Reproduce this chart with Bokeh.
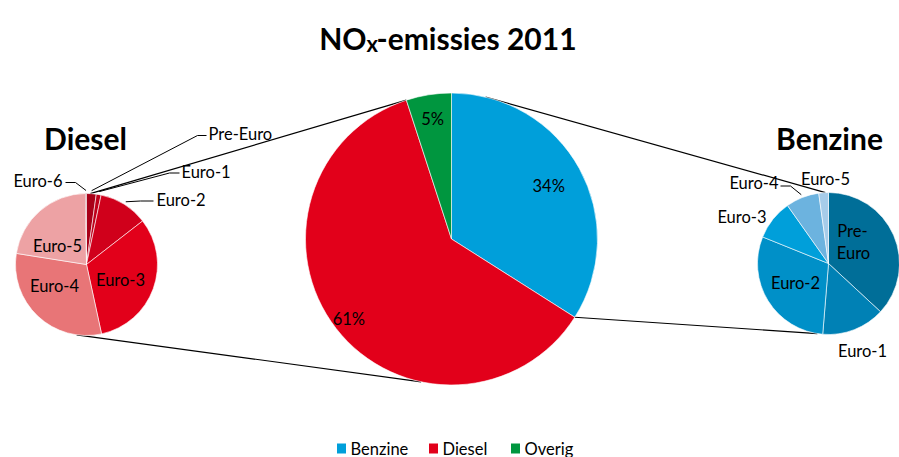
import math
from bokeh.plotting import figure
from bokeh.models import Range1d, ColumnDataSource
from bokeh.core.properties import value
from bokeh.embed import file_html
from bokeh.resources import INLINE

# ---------------- data ----------------
main_labels = ["Benzine", "Diesel", "Overig"]
main_values = [34, 61, 5]
main_colors = ["#009FDA", "#E2001A", "#00963F"]

diesel_classes = ["Pre-Euro", "Euro-1", "Euro-2", "Euro-3", "Euro-4", "Euro-5", "Euro-6"]
diesel_values = [2.2, 1.1, 11.2, 32.1, 30.9, 22.3, 0.2]
diesel_colors = ["#A90018", "#BE001A", "#D0001B", "#E2001A", "#E87577", "#EDA2A4", "#8E0014"]

benzine_classes = ["Pre-Euro", "Euro-1", "Euro-2", "Euro-3", "Euro-4", "Euro-5"]
benzine_values = [36.9, 14.4, 29.8, 9.1, 7.6, 2.2]
benzine_colors = ["#006E98", "#0081B5", "#0090C8", "#009FDA", "#6CB3DF", "#A6CCE9"]

W, H = 899, 457
FONT = "Lato"
FS = 16.5

p = figure(width=W, height=H, output_backend="svg", toolbar_location=None,
           x_range=Range1d(0, W), y_range=Range1d(0, H), min_border=0)
p.axis.visible = False
p.grid.visible = False
p.outline_line_color = None
p.background_fill_color = "white"
p.border_fill_color = "white"


def Y(py):
    return H - py


def pt(cx, cy, r, deg):
    """screen point on a circle, angle clockwise from 12 o'clock"""
    a = math.radians(deg)
    return cx + r * math.sin(a), cy - r * math.cos(a)


def pie(cx, cy, r, values, colors, names):
    tot = float(sum(values))
    cum = 0.0
    starts, ends, mids = [], [], []
    for v in values:
        s = cum / tot
        cum += v
        e = cum / tot
        starts.append(math.pi / 2 - 2 * math.pi * e)
        ends.append(math.pi / 2 - 2 * math.pi * s)
        mids.append(360 * (s + e) / 2)
    src = ColumnDataSource(dict(x=[cx] * len(values), y=[Y(cy)] * len(values),
                                start=starts, end=ends, color=colors, name=names))
    p.wedge(x="x", y="y", radius=r, start_angle="start", end_angle="end",
            fill_color="color", line_color="white", line_width=0.6, source=src)
    return mids


def label(x, py, txt, size=FS, align="center", bold=False, baseline="middle"):
    p.text(x=[x], y=[Y(py)], text=[txt], text_font=value(FONT),
           text_font_size=f"{size}px", text_align=align, text_baseline=baseline,
           text_color="black", text_font_style="bold" if bold else "normal")


def polyline(pts, width=1.0):
    p.line(x=[a for a, b in pts], y=[Y(b) for a, b in pts], line_color="black",
           line_width=width)


# geometry (screen px)
MC = (451, 238.5, 146)
DC = (86, 264, 71)
BC = (828, 263, 71)

# ---------------- connector lines ----------------
overig_start = 360 * (1 - main_values[2] / sum(main_values))
benz_end = 360 * main_values[0] / sum(main_values)
polyline([pt(*DC, 3), pt(*MC, overig_start)], 1.2)
polyline([pt(*DC, 188), pt(*MC, 192)], 1.2)
polyline([pt(*MC, 13.5), pt(*BC, 357.5)], 1.2)
polyline([pt(*MC, benz_end), pt(*BC, 189)], 1.2)

# ---------------- pies ----------------
mmids = pie(*MC, main_values, main_colors, main_labels)
dmids = pie(*DC, diesel_values, diesel_colors, diesel_classes)
bmids = pie(*BC, benzine_values, benzine_colors, benzine_classes)

# ---------------- title ----------------
label(366, 37, "NO", size=30, align="right", bold=True, baseline="alphabetic")
label(366, 43, "x", size=22, align="left", bold=True, baseline="alphabetic")
label(376, 37, "-emissies 2011", size=30, align="left", bold=True, baseline="alphabetic")

label(85, 137, "Diesel", size=30, bold=True)
label(829, 137, "Benzine", size=30, bold=True)

# ---------------- main pie labels ----------------
pct = [f"{v}%" for v in main_values]
for m, frac, t in zip(mmids, [0.76, 0.89, 0.83], pct):
    x, y = pt(MC[0], MC[1], MC[2] * frac, m)
    label(x, y, t)

# ---------------- diesel labels ----------------
label(57, 245, diesel_classes[5])
label(54, 285, diesel_classes[4])
label(120, 279, diesel_classes[3])

# leaders: (label index, text anchor x, text y, elbow start, elbow end, elbow y, align)
d_leaders = [
    (0, 208, 133, 206, 197, 135, "left"),
    (1, 181, 171, 179, 169, 172.5, "left"),
    (2, 156, 199, 153, 140, 200.5, "left"),
    (6, 62, 180, 65, 75, 182, "right"),
]
for i, tx, ty, e1, e2, ey, al in d_leaders:
    ax, ay = pt(DC[0], DC[1], DC[2] + 3, dmids[i])
    polyline([(e1, ey), (e2, ey), (ax, ay)], 1.0)
    label(tx, ty, diesel_classes[i], align=al)

# ---------------- benzine labels ----------------
label(852, 230, "Pre-")
label(853, 252, "Euro")
label(795, 282, benzine_classes[2])
label(862, 350, benzine_classes[1])
label(766, 216, benzine_classes[3], align="right")
label(825, 178, benzine_classes[5])
ax, ay = pt(BC[0], BC[1], BC[2] + 3, bmids[4])
polyline([(780, 185.5), (790, 185.5), (ax, ay)], 1.0)
label(778, 182, benzine_classes[4], align="right")

# ---------------- legend ----------------
leg_x = [341, 433, 515]
for lx, name, col in zip(leg_x, main_labels, main_colors):
    p.rect(x=[lx], y=[Y(448)], width=9, height=10, fill_color=col, line_color=None)
    label(lx + 9, 448, name, align="left")

open("out.html", "w").write(file_html(p, INLINE))
